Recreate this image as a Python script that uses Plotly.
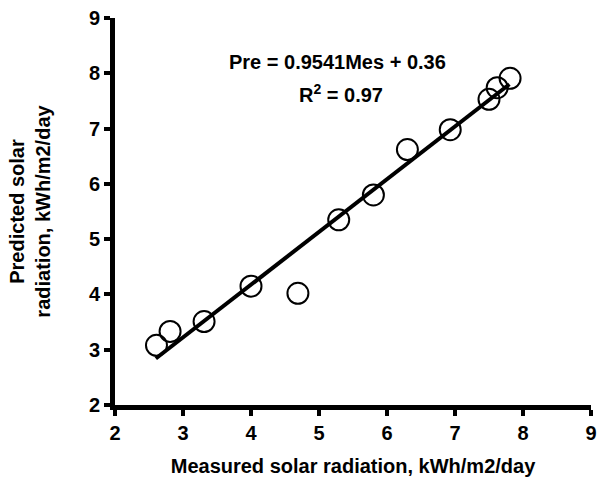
import plotly.graph_objects as go

measured = [2.61, 2.81, 3.31, 4.0, 4.69, 5.29, 5.8, 6.3, 6.93, 7.5, 7.62, 7.81]
predicted = [3.08, 3.33, 3.51, 4.15, 4.02, 5.35, 5.8, 6.62, 6.98, 7.53, 7.74, 7.91]
slope = 0.9541
intercept = 0.36
fit_x = [2.6, 7.8]
fit_y = [slope * v + intercept for v in fit_x]
tick_vals = [2, 3, 4, 5, 6, 7, 8, 9]
tick_text = ["<b>%d</b>" % v for v in tick_vals]

font_family = "Arial"
fsize = 20

fig = go.Figure()
fig.add_trace(go.Scatter(x=fit_x, y=fit_y, mode="lines",
                         line=dict(color="black", width=4), showlegend=False))
fig.add_trace(go.Scatter(x=measured, y=predicted, mode="markers",
                         marker=dict(symbol="circle-open", size=21,
                                     line=dict(color="black", width=2), color="black"),
                         showlegend=False))

axis_common = dict(range=[2, 9], tickmode="array", tickvals=tick_vals, ticktext=tick_text,
                   showgrid=False, zeroline=False,
                   showline=True, linecolor="black", linewidth=5,
                   ticks="outside", ticklen=6, tickwidth=4, tickcolor="black",
                   ticklabeloverflow="allow",
                   tickfont=dict(family=font_family, size=fsize, color="black", weight="bold"))

fig.update_layout(
    width=602, height=484,
    margin=dict(l=115, r=5, t=18, b=79),
    paper_bgcolor="white", plot_bgcolor="white",
    font=dict(family=font_family, color="black", size=fsize),
    xaxis=dict(**axis_common,
               title=dict(text="<b>Measured solar radiation, kWh/m2/day</b>",
                          font=dict(family=font_family, size=fsize, color="black"),
                          standoff=17)),
    yaxis=dict(**axis_common,
               title=dict(text="<b>Predicted solar<br>radiation, kWh/m2/day</b>",
                          font=dict(family=font_family, size=fsize, color="black"),
                          standoff=34)),
    annotations=[
        dict(x=5.27, y=8.21, xref="x", yref="y", showarrow=False,
             text="<b>Pre = 0.9541Mes + 0.36</b>",
             font=dict(family=font_family, size=fsize, color="black")),
        dict(x=5.33, y=7.64, xref="x", yref="y", showarrow=False,
             text="<b>R<sup>2</sup> = 0.97</b>",
             font=dict(family=font_family, size=fsize, color="black")),
    ],
)

fig.write_html("out.html")
